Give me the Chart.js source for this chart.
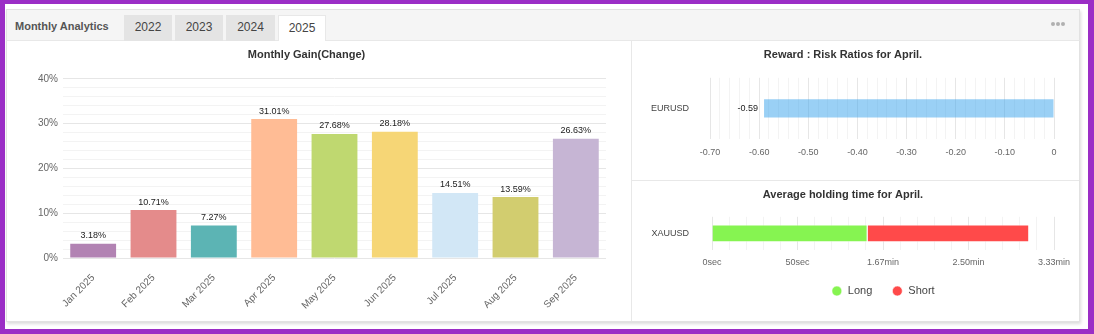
<!DOCTYPE html>
<html><head><meta charset="utf-8">
<script src="https://cdn.jsdelivr.net/npm/chart.js@4.4.1/dist/chart.umd.min.js"></script>
<style>
html,body{margin:0;padding:0;}
body{width:1094px;height:334px;position:relative;overflow:hidden;background:#9b2ec6;font-family:"Liberation Sans",Arial,sans-serif;}
#inner{position:absolute;left:5px;top:4px;width:1083px;height:325px;background:#fff;}
#card{position:absolute;left:6px;top:9px;width:1074px;height:313px;box-sizing:border-box;border:1px solid #e2e2e2;background:#fff;box-shadow:1px 2px 3px rgba(0,0,0,0.14);}
#header{position:absolute;left:6px;top:9px;width:1074px;height:32px;box-sizing:border-box;background:#f5f5f5;border:1px solid #e2e2e2;border-bottom:1px solid #e8e8e8;}
#htitle{position:absolute;left:15px;top:19px;font-weight:bold;font-size:11px;color:#555;line-height:14px;}
.tab{position:absolute;top:15px;height:26px;background:#e4e4e4;font-size:12px;color:#444;text-align:center;line-height:24px;box-sizing:border-box;}
.tab.active{background:#fff;border:1px solid #e8e8e8;border-bottom:none;}
.dot{position:absolute;top:22px;width:4px;height:4px;border-radius:50%;background:#b0b0b0;}
#vdiv{position:absolute;left:631px;top:41px;width:1px;height:280px;background:#e8e8e8;}
#hdiv{position:absolute;left:632px;top:180px;width:447px;height:1px;background:#e8e8e8;}
canvas{position:absolute;display:block;}
</style>
</head><body>
<div id="inner"></div>
<div id="card"></div>
<div id="header"></div>
<div id="htitle">Monthly Analytics</div>
<div class="tab" style="left:124px;width:48px;">2022</div>
<div class="tab" style="left:175px;width:48px;">2023</div>
<div class="tab" style="left:226px;width:49px;">2024</div>
<div class="tab active" style="left:278px;width:48px;">2025</div>
<div class="dot" style="left:1051px;"></div>
<div class="dot" style="left:1056px;"></div>
<div class="dot" style="left:1061px;"></div>
<div id="vdiv"></div>
<div id="hdiv"></div>
<canvas id="c1" width="623" height="279" style="left:7px;top:42px;"></canvas>
<canvas id="c2" width="447" height="137" style="left:632px;top:42px;"></canvas>
<canvas id="c3" width="447" height="140" style="left:632px;top:181px;"></canvas>
<script>
// ---- data ----
const months = ['Jan 2025','Feb 2025','Mar 2025','Apr 2025','May 2025','Jun 2025','Jul 2025','Aug 2025','Sep 2025'];
const gains = [3.18, 10.71, 7.27, 31.01, 27.68, 28.18, 14.51, 13.59, 26.63];
const barColors = ['#b283b3','#e48b8b','#5cb4b4','#ffbc95','#bfd870','#f6d676','#d2e7f6','#d2cd6f','#c6b5d4'];

const rrSymbols = ['EURUSD'];
const rrValues = [-0.59];

const holdSymbols = ['XAUUSD'];
const longSecs = [91];
const shortSecs = [94.5];
const holdLabels = ['Long','Short'];

const FF = '"Liberation Sans", Arial, sans-serif';
Chart.defaults.font.family = FF;
Chart.defaults.animation = false;

function gridCol(major){ return c => (c.tick && major(c.tick.value)) ? '#e6e6e6' : '#f3f3f3'; }

// ---- chart 1: monthly gain ----
const gainLabelPlugin = {
  id: 'gainLabels',
  afterDatasetsDraw(chart){
    const ctx = chart.ctx, meta = chart.getDatasetMeta(0);
    ctx.save();
    ctx.font = '9px ' + FF; ctx.fillStyle = '#222'; ctx.textAlign = 'center'; ctx.textBaseline = 'middle';
    meta.data.forEach((el, i) => ctx.fillText(gains[i].toFixed(2) + '%', el.x, el.y - 8));
    ctx.restore();
  }
};
new Chart(document.getElementById('c1'), {
  type: 'bar',
  data: { labels: months, datasets: [{ data: gains, backgroundColor: barColors, barPercentage: 0.76, categoryPercentage: 1 }] },
  options: {
    responsive: false,
    layout: { padding: { left: 0, right: 24, top: 0, bottom: 0 } },
    plugins: {
      legend: { display: false }, tooltip: { enabled: false },
      title: { display: true, text: 'Monthly Gain(Change)', color: '#333', font: { size: 11, weight: 'bold' }, padding: { top: 6, bottom: 17.6 } }
    },
    scales: {
      x: { grid: { display: false }, border: { display: false },
           ticks: { minRotation: 45, maxRotation: 45, autoSkip: false, color: '#666', font: { size: 10 }, padding: 6 },
           afterFit(s){ s.height = 63; } },
      y: { min: 0, max: 40, border: { display: false },
           grid: { drawTicks: false, color: gridCol(v => Math.round(v) % 10 === 0) },
           ticks: { stepSize: 2, autoSkip: false, padding: 5, color: '#666', font: { size: 10 },
                    callback: v => (Math.round(v) % 10 === 0 ? Math.round(v) + '%' : '') },
           afterFit(s){ s.width = 56; } }
    }
  },
  plugins: [gainLabelPlugin]
});

// ---- chart 2: reward/risk ----
const rrLabelPlugin = {
  id: 'rrLabels',
  afterDatasetsDraw(chart){
    const ctx = chart.ctx, meta = chart.getDatasetMeta(0);
    ctx.save();
    ctx.font = '9px ' + FF; ctx.fillStyle = '#222'; ctx.textAlign = 'right'; ctx.textBaseline = 'middle';
    meta.data.forEach((el, i) => ctx.fillText(rrValues[i].toFixed(2), Math.min(el.x, el.base) - 6, el.y));
    ctx.restore();
  }
};
new Chart(document.getElementById('c2'), {
  type: 'bar',
  data: { labels: rrSymbols, datasets: [{ data: rrValues, backgroundColor: 'rgba(54,162,235,0.5)', barPercentage: 0.3, categoryPercentage: 1 }] },
  options: {
    responsive: false, indexAxis: 'y',
    layout: { padding: { left: 0, right: 25, top: 0, bottom: 20 } },
    plugins: {
      legend: { display: false }, tooltip: { enabled: false },
      title: { display: true, text: 'Reward : Risk Ratios for April.', color: '#333', font: { size: 11, weight: 'bold' }, padding: { top: 6, bottom: 16.6 } }
    },
    scales: {
      x: { min: -0.7, max: 0, border: { display: false },
           grid: { drawTicks: false, color: gridCol(v => Math.round(v * 100) % 10 === 0) },
           ticks: { stepSize: 0.02, autoSkip: false, minRotation: 0, maxRotation: 0, padding: 8, color: '#666', font: { size: 9 },
                    callback: v => { const r = Math.round(v * 100); return r % 10 === 0 ? (r === 0 ? '0' : (r / 100).toFixed(2)) : ''; } },
           afterFit(s){ s.height = 20; } },
      y: { grid: { display: false }, border: { display: false },
           ticks: { padding: 13, color: '#444', font: { size: 9 } },
           afterFit(s){ s.width = 78; } }
    }
  },
  plugins: [rrLabelPlugin]
});

// ---- chart 3: holding time ----
function fmtTime(v){ return v < 60 ? Math.round(v) + 'sec' : (v / 60).toFixed(2) + 'min'; }
new Chart(document.getElementById('c3'), {
  type: 'bar',
  data: { labels: holdSymbols, datasets: [
    { label: holdLabels[0], data: longSecs, backgroundColor: '#86f451', borderColor: 'rgba(255,255,255,0.55)', borderWidth: 1, barPercentage: 0.53, categoryPercentage: 1 },
    { label: holdLabels[1], data: shortSecs, backgroundColor: '#ff4a4a', borderColor: 'rgba(255,255,255,0.55)', borderWidth: 1, barPercentage: 0.53, categoryPercentage: 1 }
  ] },
  options: {
    responsive: false, indexAxis: 'y',
    layout: { padding: { left: 0, right: 25, top: 0, bottom: 14.5 } },
    plugins: {
      tooltip: { enabled: false },
      title: { display: true, text: 'Average holding time for April.', color: '#333', font: { size: 11, weight: 'bold' }, padding: { top: 7, bottom: 15.6 } },
      legend: { position: 'bottom', fullSize: false,
                labels: { usePointStyle: true, pointStyle: 'circle', boxWidth: 11, boxHeight: 7, padding: 19.5, color: '#444', font: { size: 11 } } }
    },
    scales: {
      x: { stacked: true, min: 0, max: 200, border: { display: false },
           grid: { drawTicks: false, color: gridCol(v => Math.round(v) % 50 === 0) },
           ticks: { stepSize: 10, autoSkip: false, minRotation: 0, maxRotation: 0, padding: 7, color: '#666', font: { size: 9 },
                    callback: v => (Math.round(v) % 50 === 0 ? fmtTime(v) : '') },
           afterFit(s){ s.height = 16; } },
      y: { stacked: true, grid: { display: false }, border: { display: false },
           ticks: { padding: 15, color: '#444', font: { size: 9 } },
           afterFit(s){ s.width = 80; } }
    }
  }
});
</script>
</body></html>
